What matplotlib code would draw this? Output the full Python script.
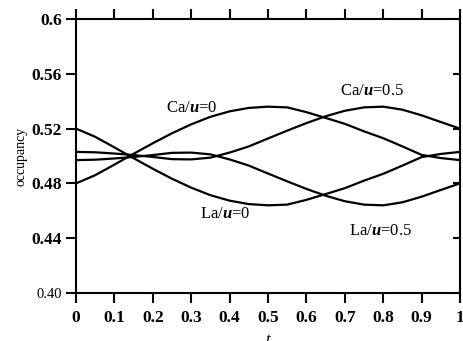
import matplotlib
matplotlib.use("Agg")
import matplotlib.pyplot as plt

plt.rcParams['mathtext.fontset'] = 'custom'
plt.rcParams['mathtext.it'] = 'Liberation Serif:italic:bold'
plt.rcParams['mathtext.rm'] = 'Liberation Serif'

t = [0.0, 0.05, 0.1, 0.15, 0.2, 0.25, 0.3, 0.35, 0.4, 0.45, 0.5,
     0.55, 0.6, 0.65, 0.7, 0.75, 0.8, 0.85, 0.9, 0.95, 1.0]
ca_u0 = [0.480, 0.486, 0.4937, 0.5016, 0.5093, 0.5166, 0.5231, 0.5286, 0.5326, 0.5351, 0.536,
         0.5355, 0.532, 0.5278, 0.5235, 0.518, 0.513, 0.507, 0.5008, 0.4985, 0.497]
la_u0 = [0.520, 0.514, 0.5063, 0.4984, 0.4907, 0.4834, 0.4769, 0.4714, 0.4674, 0.4649, 0.464,
         0.4645, 0.468, 0.4722, 0.4765, 0.482, 0.487, 0.493, 0.4992, 0.5015, 0.503]
ca_u05 = [0.503, 0.5027, 0.5018, 0.5007, 0.4993, 0.4977, 0.4975, 0.4988, 0.5025, 0.507, 0.5128,
          0.5185, 0.524, 0.529, 0.533, 0.5355, 0.536, 0.5338, 0.5297, 0.5248, 0.520]
la_u05 = [0.497, 0.4973, 0.4982, 0.4993, 0.5007, 0.5023, 0.5025, 0.5012, 0.4975, 0.493, 0.4872,
          0.4815, 0.476, 0.471, 0.467, 0.4645, 0.464, 0.4662, 0.4703, 0.4752, 0.480]

xticks = [0, 0.1, 0.2, 0.3, 0.4, 0.5, 0.6, 0.7, 0.8, 0.9, 1]
xticklabels = ['0', '0.1', '0.2', '0.3', '0.4', '0.5', '0.6', '0.7', '0.8', '0.9', '1']
yticks = [0.40, 0.44, 0.48, 0.52, 0.56, 0.60]
yticklabels = ['0.40', '0.44', '0.48', '0.52', '0.56', '0.6']

fig = plt.figure(figsize=(4.64, 3.41), dpi=100)
ax = fig.add_axes([76/464, 1-293/341, (460-76)/464, (293-19)/341])

for y in (ca_u0, la_u0, ca_u05, la_u05):
    ax.plot(t, y, color='black', lw=1.6, solid_joinstyle='round')

ax.set_xlim(0, 1)
ax.set_ylim(0.40, 0.60)
for s in ax.spines.values():
    s.set_linewidth(1.5)

ax.set_xticks(xticks)
ax.set_xticklabels(xticklabels, fontfamily='Liberation Serif', fontweight='bold', fontsize=12.5)
ax.set_yticks(yticks)
ax.set_yticklabels(yticklabels, fontfamily='Liberation Serif', fontweight='bold', fontsize=12.5)
lab0 = ax.get_yticklabels()[0]
lab0.set_fontweight('normal')
lab0.set_fontsize(10.5)

ax.tick_params(axis='both', which='both', direction='out', length=7, width=1.5,
               top=True, right=False)
ax.tick_params(axis='x', pad=5)
ax.tick_params(axis='y', pad=3)
# right inward ticks
axr = ax.twinx()
axr.set_ylim(0.40, 0.60)
axr.set_yticks(yticks)
axr.set_yticklabels([])
axr.tick_params(axis='y', direction='in', length=5, width=1.5)
for s in axr.spines.values():
    s.set_visible(False)

ax.set_ylabel('occupancy', fontfamily='Liberation Serif', fontsize=10, labelpad=3)
fig.text(268/464, 1-332/341, 't', fontfamily='Liberation Serif', style='italic',
         fontsize=12, ha='center', va='top')

tk = dict(fontsize=12, fontfamily='Liberation Serif', ha='center', va='center')
ax.text(0.302, 0.535, 'Ca/$u$=0', **tk)
ax.text(0.771, 0.5475, 'Ca/$u$=0.5', **tk)
ax.text(0.388, 0.4577, 'La/$u$=0', **tk)
ax.text(0.794, 0.4453, 'La/$u$=0.5', **tk)

fig.savefig('out.png', dpi=100)
